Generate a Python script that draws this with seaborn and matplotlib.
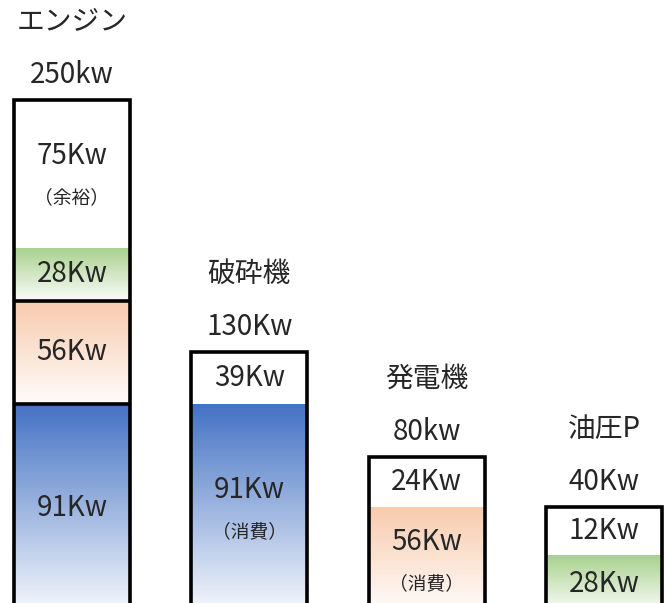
import numpy as np
import matplotlib
matplotlib.use("Agg")
import matplotlib.pyplot as plt
import seaborn as sns
from matplotlib.colors import to_rgb

# ---- data ----
categories = ["エンジン", "破砕機", "発電機", "油圧P"]
total_labels = ["250kw", "130Kw", "80kw", "40Kw"]

# kW values of each segment (bottom to top)
blue_kw = [91, 91, 0, 0]
orange_kw = [56, 0, 56, 0]
green_kw = [28, 0, 0, 28]
spare_kw = [75, 39, 24, 12]

# schematic segment heights as drawn in the picture (not to scale)
blue_h = [208, 208, 0, 0]
orange_h = [103, 0, 105, 0]
green_h = [53, 0, 0, 57]
spare_h = [148, 52, 50, 48]

blue_note = ["", "（消費）", "", ""]
orange_note = ["", "", "（消費）", ""]
green_note = ["", "", "", ""]
spare_note = ["（余裕）", "", "", ""]

# ---- style ----
sns.set_theme(style="white")
plt.rcParams["font.family"] = ["Noto Sans CJK JP", "DejaVu Sans"]
TXT = "#262626"
BIG = 20
SMALL = 13.5

fig = plt.figure(figsize=(6.71, 6.03), dpi=100)
ax = fig.add_axes([0, 0, 1, 1])

layers = [
    (blue_kw, blue_h, blue_note, "#4472C4"),
    (orange_kw, orange_h, orange_note, "#F8CBAD"),
    (green_kw, green_h, green_note, "#A9D18E"),
    (spare_kw, spare_h, spare_note, None),
]

W = 0.655
bottoms = np.zeros(len(categories))
seg_info = []
for kw, h, notes, col in layers:
    h = np.array(h, dtype=float)
    sns.barplot(x=categories, y=h, order=categories, bottom=bottoms.copy(),
                color="white", width=W, linewidth=0, saturation=1, ax=ax)
    cont = ax.containers[-1]
    for i, p in enumerate(cont.patches):
        if h[i] <= 0:
            continue
        x0, y0 = p.get_x(), p.get_y()
        x1, y1 = x0 + p.get_width(), y0 + p.get_height()
        if col is not None:
            top = np.array(to_rgb(col))
            bot = top + (1 - top) * 0.95
            t = np.linspace(0, 1, 256)[:, None, None]
            grad = top[None, None, :] * (1 - t) + bot[None, None, :] * t
            im = ax.imshow(grad, extent=(x0, x1, y0, y1), origin="upper",
                           aspect="auto", interpolation="bicubic", zorder=2)
            im.set_clip_path(p)
        seg_info.append((i, (x0 + x1) / 2, (y0 + y1) / 2, f"{kw[i]}Kw", notes[i]))
    bottoms = bottoms + h

# outline of each whole bar
sns.barplot(x=categories, y=bottoms, order=categories, fill=False,
            color="black", width=W, linewidth=2.6, ax=ax, zorder=4)
outline = ax.containers[-1]
for p in outline.patches:
    p.set_edgecolor("black")
    p.set_zorder(4)

# separators in the engine column
eng = outline.patches[0]
ex0, ex1 = eng.get_x(), eng.get_x() + eng.get_width()
for yv in [blue_h[0], blue_h[0] + orange_h[0]]:
    ax.plot([ex0, ex1], [yv, yv], color="black", lw=2.6, zorder=4,
            solid_capstyle="butt")

# segment labels
for i, xc, yc, lab, note in seg_info:
    if note:
        ax.annotate(lab, (xc, yc), xytext=(0, 18), textcoords="offset pixels",
                    ha="center", va="center", fontsize=BIG, color=TXT, zorder=5)
        ax.annotate(note, (xc, yc), xytext=(0, -24), textcoords="offset pixels",
                    ha="center", va="center", fontsize=SMALL, color=TXT, zorder=5)
    else:
        ax.annotate(lab, (xc, yc), ha="center", va="center",
                    fontsize=BIG, color=TXT, zorder=5)

# titles and totals above bars
for i, p in enumerate(outline.patches):
    xc = p.get_x() + p.get_width() / 2
    yt = bottoms[i]
    ax.annotate(total_labels[i], (xc, yt), xytext=(0, 25), textcoords="offset pixels",
                ha="center", va="center", fontsize=BIG, color=TXT)
    ax.annotate(categories[i], (xc, yt), xytext=(0, 78), textcoords="offset pixels",
                ha="center", va="center", fontsize=BIG, color=TXT)

ax.set_xlim(-0.406, 3.378)
ax.set_ylim(9, 612)
ax.axis("off")

fig.savefig("out.png", dpi=100)
